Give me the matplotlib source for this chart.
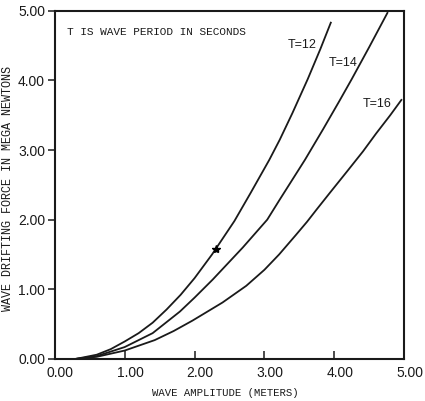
"""Wave drifting force versus wave amplitude for three wave periods."""

import matplotlib
matplotlib.use("Agg")
import matplotlib.pyplot as plt
from matplotlib.transforms import ScaledTranslation

# values
amp_t12 = [0.30, 0.60, 0.80, 1.00, 1.20, 1.40, 1.60, 1.80, 2.00, 2.25,
           2.57, 2.80, 3.07, 3.22, 3.40, 3.62, 3.80, 3.95]
force_t12 = [0.00, 0.06, 0.14, 0.25, 0.37, 0.52, 0.71, 0.92, 1.16, 1.50,
             1.98, 2.38, 2.86, 3.15, 3.53, 4.02, 4.45, 4.83]

amp_t14 = [0.30, 0.60, 1.00, 1.40, 1.79, 2.00, 2.26, 2.69, 3.04, 3.22,
           3.58, 3.84, 4.07, 4.25, 4.50, 4.76]
force_t14 = [0.00, 0.04, 0.17, 0.37, 0.68, 0.88, 1.14, 1.60, 2.00, 2.29,
             2.86, 3.30, 3.70, 4.02, 4.48, 4.97]

amp_t16 = [0.30, 0.60, 1.00, 1.43, 1.70, 1.97, 2.40, 2.74, 3.00, 3.21,
           3.45, 3.61, 3.75, 3.94, 4.18, 4.41, 4.60, 4.80, 4.96]
force_t16 = [0.00, 0.03, 0.12, 0.27, 0.40, 0.55, 0.81, 1.05, 1.28, 1.50,
             1.78, 1.97, 2.15, 2.39, 2.69, 2.98, 3.24, 3.50, 3.72]

curve_labels = ["T=12", "T=14", "T=16"]
label_x = [3.54, 4.13, 4.61]
label_y = [4.51, 4.25, 3.66]

blot_x = [2.31]
blot_y = [1.58]

ticks = [0.0, 1.0, 2.0, 3.0, 4.0, 5.0]
tick_labels = ["0.00", "1.00", "2.00", "3.00", "4.00", "5.00"]

MONO = "Liberation Mono"
SANS = "Liberation Sans"
INK = "#1a1a1a"

fig = plt.figure(figsize=(4.25, 4.01), dpi=100)
ax = fig.add_axes([0.129, 0.105, 0.822, 0.868])

for xs, ys in [(amp_t12, force_t12), (amp_t14, force_t14), (amp_t16, force_t16)]:
    ax.plot(xs, ys, color=INK, lw=1.3, solid_joinstyle="round")

ax.plot(blot_x, blot_y, marker="*", ms=6, color="black", ls="none")

for text, x, y in zip(curve_labels, label_x, label_y):
    ax.text(x, y, text, family=SANS, ha="center", va="center", fontsize=9,
            color=INK)

ax.text(0.17, 4.70, "T IS WAVE PERIOD IN SECONDS", family=MONO, fontsize=8,
        ha="left", va="center", color=INK)

ax.set_xlim(0, 5)
ax.set_ylim(0, 5)
ax.set_xticks(ticks)
ax.set_xticklabels(tick_labels, family=SANS)
ax.set_yticks(ticks)
ax.set_yticklabels(tick_labels, family=SANS)

ax.tick_params(axis="x", direction="in", length=6, width=1.1, pad=5,
               labelsize=10, colors=INK)
ax.tick_params(axis="y", direction="out", length=5, width=1.1, pad=2,
               labelsize=10, colors=INK)

shift = ScaledTranslation(4 / 72, 0, fig.dpi_scale_trans)
for label in ax.get_xticklabels():
    label.set_transform(label.get_transform() + shift)

for spine in ax.spines.values():
    spine.set_linewidth(1.5)
    spine.set_color(INK)

ax.set_xlabel("WAVE AMPLITUDE (METERS)", family=MONO, fontsize=7.7, color=INK)
ax.xaxis.set_label_coords(0.487, -0.085)
ax.set_ylabel("WAVE DRIFTING FORCE IN MEGA NEWTONS", family=MONO,
              fontsize=8.5, color=INK)
ax.yaxis.set_label_coords(-0.117, 0.489)

fig.savefig("out.png", dpi=100)
